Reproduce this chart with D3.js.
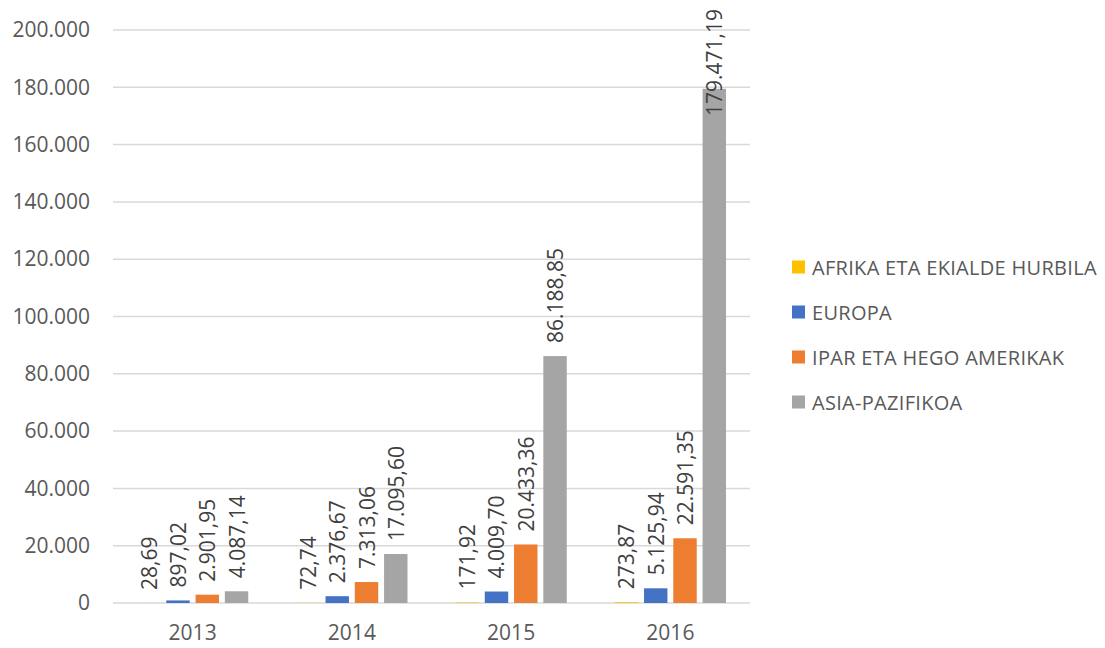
<!DOCTYPE html>
<html>
<head>
<meta charset="utf-8">
<script src="https://cdn.jsdelivr.net/npm/d3@7"></script>
<style>
  html, body { margin: 0; padding: 0; background: #fff; }
  svg { display: block; font-family: "Open Sans", "Noto Sans", sans-serif; }
</style>
</head>
<body>
<svg id="chart" width="1105" height="648"></svg>
<script>
// Urteak eta eskualdeak
const years = ["2013", "2014", "2015", "2016"];
const regions = ["AFRIKA ETA EKIALDE HURBILA", "EUROPA", "IPAR ETA HEGO AMERIKAK", "ASIA-PAZIFIKOA"];
const regionColors = ["#FFC000", "#4472C4", "#ED7D31", "#A5A5A5"];

// Balioak eskualdeka, urteen ordenan
const afrika = [28.69, 72.74, 171.92, 273.87];
const europa = [897.02, 2376.67, 4009.70, 5125.94];
const amerikak = [2901.95, 7313.06, 20433.36, 22591.35];
const asia = [4087.14, 17095.60, 86188.85, 179471.19];
const seriesValues = [afrika, europa, amerikak, asia];

const yTicks = [0, 20000, 40000, 60000, 80000, 100000, 120000, 140000, 160000, 180000, 200000];

const svg = d3.select("#chart");
const plot = { left: 113, right: 750, top: 30, bottom: 603 };

const x0 = d3.scaleBand().domain(years).range([plot.left, plot.right]).paddingInner(0).paddingOuter(0);
const x1 = d3.scaleBand().domain(regions).range([24, x0.bandwidth() - 24]).paddingInner(0.2);
const y = d3.scaleLinear().domain([0, 200000]).range([plot.bottom, plot.top]);

// Formatua: puntua milakoentzat, koma hamartarrentzat
const locale = d3.formatLocale({ decimal: ",", thousands: ".", grouping: [3], currency: ["", "€"] });
const fmtTick = locale.format(",.0f");
const fmtVal = locale.format(",.2f");

// Sareta horizontala
svg.append("g")
  .selectAll("line")
  .data(yTicks)
  .join("line")
  .attr("x1", plot.left)
  .attr("x2", plot.right)
  .attr("y1", d => y(d))
  .attr("y2", d => y(d))
  .attr("stroke", "#D9D9D9")
  .attr("stroke-width", 1.5);

// Y ardatzeko etiketak
const yAxis = d3.axisLeft(y).tickValues(yTicks).tickFormat(fmtTick).tickSize(0).tickPadding(23);
const gy = svg.append("g").attr("transform", `translate(${plot.left},0)`).call(yAxis);
gy.select(".domain").remove();
gy.selectAll("text")
  .attr("fill", "#595959")
  .style("font-size", "21px")
  .style("font-family", "'Open Sans', sans-serif");

// X ardatzeko etiketak
const xAxis = d3.axisBottom(x0).tickSize(0).tickPadding(22);
const gx = svg.append("g").attr("transform", `translate(0,${plot.bottom})`).call(xAxis);
gx.select(".domain").remove();
gx.selectAll("text")
  .attr("fill", "#595959")
  .style("font-size", "21px")
  .style("font-family", "'Open Sans', sans-serif");

// Barrak
const rows = [];
years.forEach((yr, i) => {
  regions.forEach((rg, j) => {
    rows.push({ year: yr, region: rg, value: seriesValues[j][i], color: regionColors[j] });
  });
});

svg.append("g")
  .selectAll("rect")
  .data(rows)
  .join("rect")
  .attr("x", d => x0(d.year) + x1(d.region))
  .attr("y", d => y(d.value))
  .attr("width", x1.bandwidth())
  .attr("height", d => Math.max(0, y(0) - y(d.value)))
  .attr("fill", d => d.color);

// Balio-etiketak, bertikalak
const labels = svg.append("g")
  .selectAll("text")
  .data(rows)
  .join("text")
  .attr("text-anchor", "start")
  .attr("dominant-baseline", "central")
  .attr("fill", "#404040")
  .style("font-size", "21px")
  .text(d => fmtVal(d.value));

labels.each(function (d) {
  const len = this.getComputedTextLength();
  const cx = x0(d.year) + x1(d.region) + x1.bandwidth() / 2;
  let start = y(d.value) - 13;
  const minStart = 9 + len;
  if (start < minStart) start = minStart;
  d3.select(this).attr("transform", `translate(${cx},${start}) rotate(-90)`);
});

// Legenda
const legend = svg.append("g").attr("transform", "translate(792,267)");
const items = legend.selectAll("g")
  .data(regions)
  .join("g")
  .attr("transform", (d, i) => `translate(0,${i * 45})`);
items.append("rect")
  .attr("x", 0).attr("y", -6.5)
  .attr("width", 13).attr("height", 13)
  .attr("fill", (d, i) => regionColors[i]);
items.append("text")
  .attr("x", 20)
  .attr("dominant-baseline", "central")
  .attr("fill", "#595959")
  .style("font-size", "20px")
  .style("letter-spacing", "0.3px")
  .text(d => d);
</script>
</body>
</html>
